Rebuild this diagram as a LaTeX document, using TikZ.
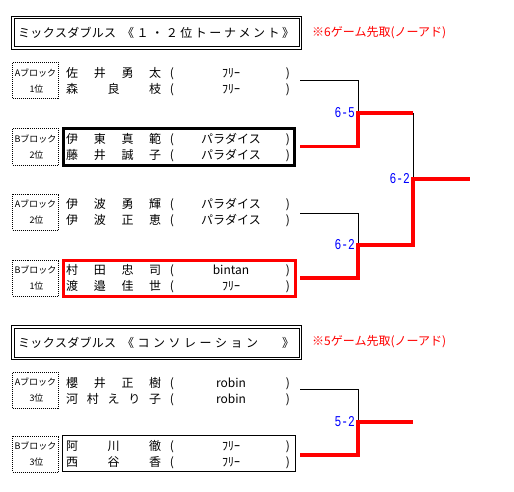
\documentclass[tikz,border=0pt]{standalone}
\usepackage{fontspec}
\usepackage{graphicx}
\newfontfamily\jp{Noto Sans CJK JP}
\newfontfamily\scoref{Liberation Mono}
\makeatletter
\newcommand\spreadtext[2]{\makebox[#1][s]{\let\sp@sep\relax\@tfor\sp@ch:=#2\do{\sp@sep\sp@ch\let\sp@sep\hfill}}}
\makeatother
\tikzset{
 jp/.style={font=\jp\fontsize{12}{12}\selectfont, inner sep=0pt, text height=10.5pt, text depth=1.5pt},
 jps/.style={font=\jp\fontsize{9}{9}\selectfont, inner sep=0pt, text height=7.9pt, text depth=1.1pt},
 lblbox/.style={draw, line width=1pt, dash pattern=on 1pt off 1pt, minimum width=46pt, minimum height=36pt, inner sep=0pt},
 titlebox/.style={draw, line width=1pt, inner sep=0pt},
 note/.style={jp, text=red, anchor=west},
 score/.style={font=\scoref\fontsize{15}{15}\selectfont, text=blue, anchor=east, inner sep=0pt, text height=9.9pt, text depth=0pt},
 thinl/.style={line width=1pt},
 redl/.style={draw=red, line width=3.5pt, line join=miter},
}
\newcommand\entry[4]{%
 \node[jp, anchor=west] (#1n) at (66,#2) {\spreadtext{95pt}{#3}};
 \node[jp] (#1l) at (172,#2) {(};
 \node[jp] (#1o) at (231,#2) {#4};
 \node[jp] (#1r) at (288,#2) {)};}
\newcommand\blk[4]{%
 \node[lblbox] (#1) at (35.5,#2) {};
 \node[jps] (#1a) at (35.5,#2-8) {#3};
 \node[jps] (#1b) at (36.5,#2+8) {#4};}
\begin{document}
\begin{tikzpicture}[x=1pt,y=-1pt]
\useasboundingbox[fill=white] (0,0) rectangle (514,492);
% title 1
\node[titlebox, minimum width=290pt, minimum height=33pt] (t1o) at (156.5,33) {};
\node[titlebox, minimum width=285pt, minimum height=28pt] (t1i) at (156.5,33) {};
\node[jp, anchor=west] (t1a) at (18,33) {\spreadtext{98pt}{ミックスダブルス}};
\node[jp, anchor=west] (t1b) at (122,33) {\spreadtext{172pt}{《１・２位トーナメント》}};
\node[note] (n1) at (312,32) {※6ゲーム先取(ノーアド)};
% section 1
\blk{b1}{81}{Aブロック}{1位}
\entry{r1a}{73}{佐井勇太}{ﾌﾘｰ}
\entry{r1b}{89}{森良枝}{ﾌﾘｰ}
\blk{b2}{147}{Bブロック}{2位}
\node[draw, line width=3pt, minimum width=231pt, minimum height=37pt, inner sep=0pt] (nb2) at (179,147) {};
\entry{r2a}{139}{伊東真範}{パラダイス}
\entry{r2b}{155}{藤井誠子}{パラダイス}
\blk{b3}{212}{Aブロック}{2位}
\entry{r3a}{204}{伊波勇輝}{パラダイス}
\entry{r3b}{220}{伊波正恵}{パラダイス}
\blk{b4}{278}{Bブロック}{1位}
\node[draw=red, line width=3pt, minimum width=232pt, minimum height=36pt, inner sep=0pt] (nb4) at (179.5,278) {};
\entry{r4a}{270}{村田忠司}{bintan}
\entry{r4b}{286}{渡邉佳世}{ﾌﾘｰ}
% title 2
\node[titlebox, minimum width=290pt, minimum height=34pt] (t2o) at (156.5,342.5) {};
\node[titlebox, minimum width=285pt, minimum height=29pt] (t2i) at (156.5,342.5) {};
\node[jp, anchor=west] (t2a) at (18,342.5) {\spreadtext{98pt}{ミックスダブルス}};
\node[jp, anchor=west] (t2b) at (122,342.5) {\spreadtext{136pt}{《コンソレーション}};
\node[jp, anchor=west] (t2c) at (282,342.5) {》};
\node[note] (n2) at (312,341) {※5ゲーム先取(ノーアド)};
% section 2
\blk{b5}{390.5}{Aブロック}{3位}
\entry{r5a}{382.5}{櫻井正樹}{robin}
\entry{r5b}{398.5}{河村えり子}{robin}
\blk{b6}{454}{Bブロック}{3位}
\node[draw, line width=1pt, minimum width=233pt, minimum height=36pt, inner sep=0pt] (nb6) at (179,453.5) {};
\entry{r6a}{446}{阿川徹}{ﾌﾘｰ}
\entry{r6b}{462}{西谷香}{ﾌﾘｰ}
% bracket coordinates
\coordinate (p1) at (300,81);
\coordinate (p2) at (300,146.5);
\coordinate (p3) at (300,213);
\coordinate (p4) at (300,278);
\coordinate (p5) at (300,389.5);
\coordinate (p6) at (300,455);
\coordinate (j1) at (358,113);
\coordinate (j2) at (358,245);
\coordinate (k1) at (413,113);
\coordinate (k2) at (413,245);
\coordinate (j3) at (413,179);
\coordinate (e1) at (470,179);
\coordinate (j4) at (358,422);
\coordinate (e2) at (413,422);
\draw[thinl] (p1) -| (j1);
\draw[thinl] (p3) -| (j2);
\draw[thinl] (k1) -- (j3);
\draw[thinl] (p5) -| (j4);
\draw[redl] (p2) -| (j1) -- (k1);
\draw[redl] (p4) -| (j2) -- (k2) -- (j3) -- (e1);
\draw[redl] (p6) -| (j4) -- (e2);
% scores
\node[score] (s1) at (355,112.5) {\scalebox{0.75}[1]{6-5}};
\node[score] (s2) at (355,244.5) {\scalebox{0.75}[1]{6-2}};
\node[score] (s3) at (410,178.5) {\scalebox{0.75}[1]{6-2}};
\node[score] (s4) at (355,421.5) {\scalebox{0.75}[1]{5-2}};
\end{tikzpicture}
\end{document}
